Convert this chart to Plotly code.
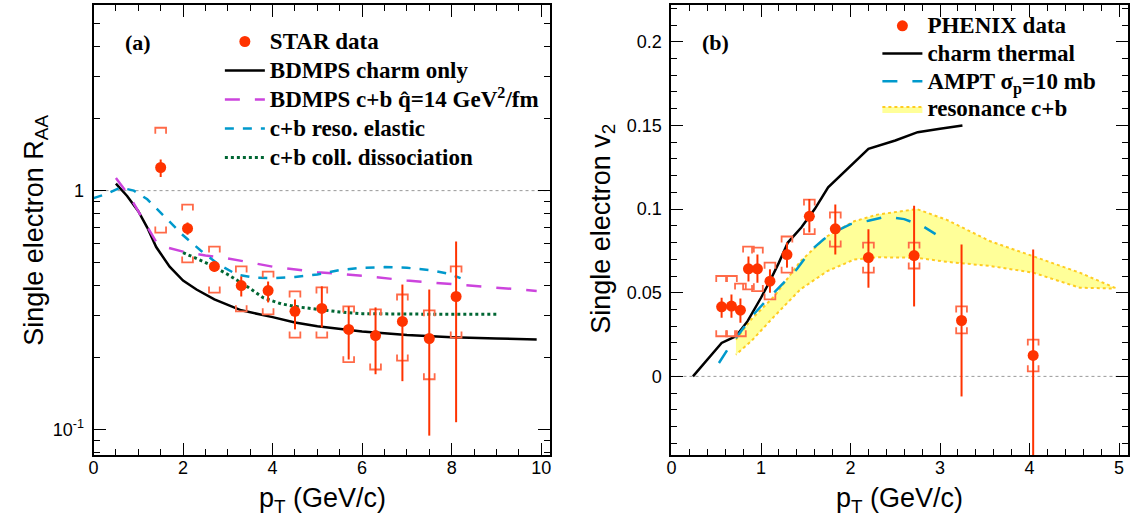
import plotly.graph_objects as go

# ---------------- Panel (a): STAR R_AA ----------------
star_pt = [1.5, 2.1, 2.7, 3.3, 3.9, 4.5, 5.1, 5.7, 6.3, 6.9, 7.5, 8.1]
star_raa = [1.25, 0.694, 0.481, 0.400, 0.381, 0.312, 0.321, 0.262, 0.247, 0.283, 0.240, 0.360]
star_stat_hi = [1.35, 0.735, 0.505, 0.437, 0.416, 0.350, 0.397, 0.327, 0.324, 0.404, 0.385, 0.612]
star_stat_lo = [1.14, 0.654, 0.458, 0.360, 0.340, 0.262, 0.267, 0.196, 0.170, 0.159, 0.094, 0.107]
star_sys_hi = [1.835, 0.874, 0.583, 0.481, 0.458, 0.378, 0.393, 0.327, 0.318, 0.367, 0.315, 0.481]
star_sys_lo = [0.667, 0.500, 0.374, 0.312, 0.303, 0.242, 0.242, 0.191, 0.178, 0.194, 0.162, 0.242]

charm_pt = [0.5, 0.75, 1.0, 1.2, 1.4, 1.7, 2.0, 2.3, 2.7, 3.3, 4.0, 4.5, 5.0, 6.0, 7.0, 8.0, 9.0, 9.9]
charm_raa = [1.07, 0.95, 0.82, 0.70, 0.58, 0.48, 0.42, 0.385, 0.35, 0.315, 0.295, 0.28, 0.27, 0.257, 0.248, 0.243, 0.24, 0.238]

cb_pt = [0.5, 0.8, 1.1, 1.4, 1.6, 2.0, 2.5, 3.0, 3.5, 4.0, 5.0, 6.0, 7.0, 8.0, 9.0, 9.9]
cb_raa = [1.13, 0.95, 0.76, 0.61, 0.58, 0.555, 0.535, 0.52, 0.50, 0.48, 0.455, 0.44, 0.42, 0.405, 0.39, 0.38]

reso_pt = [0.0, 0.3, 0.6, 0.9, 1.2, 1.6, 2.0, 2.4, 2.8, 3.2, 3.6, 4.0, 4.5, 5.0, 5.5, 6.0, 6.5, 7.0, 7.5, 7.9, 8.2]
reso_raa = [0.93, 0.97, 1.03, 1.0, 0.92, 0.77, 0.65, 0.56, 0.49, 0.445, 0.432, 0.43, 0.435, 0.445, 0.465, 0.475, 0.478, 0.475, 0.465, 0.45, 0.43]

coll_pt = [2.0, 2.3, 2.6, 3.0, 3.4, 3.8, 4.2, 4.6, 5.0, 5.5, 6.0, 7.0, 8.0, 9.0]
coll_raa = [0.55, 0.52, 0.49, 0.445, 0.40, 0.355, 0.335, 0.325, 0.318, 0.31, 0.305, 0.303, 0.303, 0.303]

# ---------------- Panel (b): PHENIX v2 ----------------
phx_pt = [0.56, 0.67, 0.77, 0.86, 0.96, 1.1, 1.29, 1.54, 1.83, 2.2, 2.71, 3.24, 4.04]
phx_v2 = [0.0416, 0.042, 0.0396, 0.0643, 0.0643, 0.0569, 0.0728, 0.0957, 0.0882, 0.071, 0.0722, 0.0334, 0.0125]
phx_stat_hi = [0.047, 0.049, 0.0466, 0.0716, 0.0728, 0.064, 0.080, 0.106, 0.1027, 0.088, 0.102, 0.0788, 0.0758]
phx_stat_lo = [0.035, 0.035, 0.032, 0.0567, 0.056, 0.050, 0.065, 0.086, 0.0728, 0.053, 0.0418, -0.012, -0.07]
phx_sys_hi = [0.060, 0.060, 0.0555, 0.0776, 0.077, 0.068, 0.0836, 0.1057, 0.098, 0.080, 0.080, 0.0418, 0.022]
phx_sys_lo = [0.024, 0.024, 0.024, 0.052, 0.051, 0.046, 0.062, 0.085, 0.0776, 0.062, 0.0645, 0.0257, 0.003]

therm_pt = [0.24, 0.4, 0.56, 0.72, 0.85, 1.0, 1.1, 1.2, 1.3, 1.45, 1.6, 1.75, 2.0, 2.2, 2.5, 2.75, 3.0, 3.25]
therm_v2 = [0.0, 0.010, 0.020, 0.024, 0.033, 0.047, 0.057, 0.068, 0.080, 0.089, 0.100, 0.113, 0.126, 0.136, 0.141, 0.146, 0.148, 0.150]

ampt_pt = [0.53, 0.65, 0.75, 0.9, 1.07, 1.25, 1.4, 1.55, 1.7, 1.85, 2.0, 2.2, 2.4, 2.6, 2.8, 2.95]
ampt_v2 = [0.008, 0.018, 0.025, 0.036, 0.046, 0.056, 0.064, 0.075, 0.082, 0.087, 0.091, 0.093, 0.0955, 0.094, 0.090, 0.085]

band_pt = [0.72, 0.89, 1.15, 1.44, 1.74, 2.04, 2.3, 2.74, 3.07, 3.56, 4.04, 4.56, 4.95]
band_hi = [0.022, 0.034, 0.048, 0.0688, 0.0838, 0.0927, 0.0967, 0.100, 0.0937, 0.0808, 0.0718, 0.062, 0.053]
band_lo = [0.013, 0.021, 0.036, 0.052, 0.0629, 0.0698, 0.0712, 0.0709, 0.0685, 0.0660, 0.062, 0.053, 0.0525]

RED = "#ff3300"
BRK = "#ff6a48"
SERIF = "Liberation Serif"
SANS = "Liberation Sans"


def brackets(x, lo, hi, dx, lip, log=False):
    xs, ys = [], []
    for xi, l, h in zip(x, lo, hi):
        ht = h / lip if log else h - lip
        lb = l * lip if log else l + lip
        xs += [xi - dx, xi - dx, xi + dx, xi + dx, None, xi - dx, xi - dx, xi + dx, xi + dx, None]
        ys += [ht, h, h, ht, None, lb, l, l, lb, None]
    return xs, ys


def lg(t):
    return '<span style="font-size:23px"><b>' + t + '</b></span>'


fig = go.Figure()

# ---- panel (a) ----
fig.add_trace(go.Scatter(x=charm_pt, y=charm_raa, mode="lines", name=lg("BDMPS charm only"),
                         line=dict(color="black", width=2.5), xaxis="x", yaxis="y", legend="legend",
                         legendgroup="a2", legendrank=2))
fig.add_trace(go.Scatter(x=cb_pt, y=cb_raa, mode="lines",
                         name=lg("BDMPS c+b q\u0302=14 GeV<sup>2</sup>/fm"),
                         line=dict(color="#cc44dd", width=2.5, dash="longdash"), xaxis="x", yaxis="y",
                         legend="legend", legendgroup="a3", legendrank=3))
fig.add_trace(go.Scatter(x=reso_pt, y=reso_raa, mode="lines", name=lg("c+b reso. elastic"),
                         line=dict(color="#0099cc", width=2.5, dash="dash"), xaxis="x", yaxis="y",
                         legend="legend", legendgroup="a4", legendrank=4))
fig.add_trace(go.Scatter(x=coll_pt, y=coll_raa, mode="lines", name=lg("c+b coll. dissociation"),
                         line=dict(color="#006633", width=3, dash="dot"), xaxis="x", yaxis="y",
                         legend="legend", legendgroup="a5", legendrank=5))
bx, by = brackets(star_pt, star_sys_lo, star_sys_hi, 0.12, 1.06, log=True)
fig.add_trace(go.Scatter(x=bx, y=by, mode="lines", line=dict(color=BRK, width=1.8),
                         showlegend=False, xaxis="x", yaxis="y", hoverinfo="skip"))
fig.add_trace(go.Scatter(x=star_pt, y=star_raa, mode="markers", name=lg("STAR data"),
                         marker=dict(color=RED, size=11),
                         error_y=dict(type="data", symmetric=False,
                                      array=[h - v for h, v in zip(star_stat_hi, star_raa)],
                                      arrayminus=[v - l for v, l in zip(star_raa, star_stat_lo)],
                                      color=RED, thickness=2, width=0),
                         xaxis="x", yaxis="y", legend="legend", legendgroup="a1", legendrank=1))

# ---- panel (b) ----
fig.add_trace(go.Scatter(x=band_pt + band_pt[::-1], y=band_hi + band_lo[::-1], mode="lines",
                         fill="toself", fillcolor="#ffff99", name=lg("resonance c+b"),
                         line=dict(color="#ffcc22", width=2, dash="dot"), xaxis="x2", yaxis="y2",
                         legend="legend2", legendgroup="b4", legendrank=4))
fig.add_trace(go.Scatter(x=therm_pt, y=therm_v2, mode="lines", name=lg("charm thermal"),
                         line=dict(color="black", width=2.5), xaxis="x2", yaxis="y2",
                         legend="legend2", legendgroup="b2", legendrank=2))
fig.add_trace(go.Scatter(x=ampt_pt, y=ampt_v2, mode="lines", name=lg("AMPT σ<sub>p</sub>=10 mb"),
                         line=dict(color="#0099cc", width=2.5, dash="longdash"), xaxis="x2", yaxis="y2",
                         legend="legend2", legendgroup="b3", legendrank=3))
bx2, by2 = brackets(phx_pt, phx_sys_lo, phx_sys_hi, 0.06, 0.0036)
fig.add_trace(go.Scatter(x=bx2, y=by2, mode="lines", line=dict(color=BRK, width=1.8),
                         showlegend=False, xaxis="x2", yaxis="y2", hoverinfo="skip"))
fig.add_trace(go.Scatter(x=phx_pt, y=phx_v2, mode="markers", name=lg("PHENIX data"),
                         marker=dict(color=RED, size=11),
                         error_y=dict(type="data", symmetric=False,
                                      array=[h - v for h, v in zip(phx_stat_hi, phx_v2)],
                                      arrayminus=[v - l for v, l in zip(phx_v2, phx_stat_lo)],
                                      color=RED, thickness=2, width=0),
                         xaxis="x2", yaxis="y2", legend="legend2", legendgroup="b1", legendrank=1))

W, H = 1142, 526
common = dict(showline=True, linecolor="black", linewidth=2, mirror="ticks", ticks="inside",
              ticklen=12, tickwidth=1, tickcolor="black", showgrid=False, zeroline=False,
              tickfont=dict(family=SANS, size=18, color="black"))

fig.update_layout(
    width=W, height=H, margin=dict(l=0, r=0, t=0, b=0),
    paper_bgcolor="white", plot_bgcolor="white",
    xaxis=dict(domain=[89 / W, 548 / W], range=[0, 10.2], tick0=0, dtick=2, anchor="y",
               ticklabelstandoff=-5,
               minor=dict(dtick=0.5, ticks="inside", ticklen=6, tickcolor="black", showgrid=False),
               **common),
    yaxis=dict(domain=[1 - 455 / H, 1 - 5 / H], type="log", range=[-1.108, 0.778], anchor="x",
               tickvals=[0.1, 1], ticktext=["10<sup>-1</sup>", "1"], ticklabelstandoff=4,
               minor=dict(tickvals=[0.08, 0.09, 0.2, 0.3, 0.4, 0.5, 0.6, 0.7, 0.8, 0.9, 2, 3, 4, 5, 6],
                          ticks="inside", ticklen=6, tickcolor="black", showgrid=False),
               **common),
    xaxis2=dict(domain=[670 / W, 1129 / W], range=[0, 5.1], tick0=0, dtick=1, anchor="y2",
                ticklabelstandoff=-5,
                minor=dict(dtick=0.2, ticks="inside", ticklen=6, tickcolor="black", showgrid=False),
                **common),
    yaxis2=dict(domain=[1 - 455 / H, 1 - 5 / H], range=[-0.047, 0.222], anchor="x2",
                tickvals=[0, 0.05, 0.1, 0.15, 0.2], ticktext=["0", "0.05", "0.1", "0.15", "0.2"],
                ticklabelstandoff=4,
                minor=dict(dtick=0.01, ticks="inside", ticklen=6, tickcolor="black", showgrid=False),
                **common),
    legend=dict(x=216 / W, y=1 - 22 / H, xanchor="left", yanchor="top", bgcolor="rgba(0,0,0,0)",
                font=dict(family=SERIF, size=20, color="black"), traceorder="grouped",
                tracegroupgap=0, itemwidth=40),
    legend2=dict(x=877 / W, y=1 - 7 / H, xanchor="left", yanchor="top", bgcolor="rgba(0,0,0,0)",
                 font=dict(family=SERIF, size=19, color="black"), traceorder="grouped",
                 tracegroupgap=0, itemwidth=40),
    shapes=[
        dict(type="line", xref="x domain", yref="y", x0=0, x1=1, y0=1, y1=1,
             line=dict(color="#999999", width=1, dash="dot"), layer="below"),
        dict(type="line", xref="x2 domain", yref="y2", x0=0, x1=1, y0=0, y1=0,
             line=dict(color="#999999", width=1, dash="dot"), layer="below"),
    ],
    annotations=[
        dict(text="<b>(a)</b>", x=119 / W, y=1 - 42 / H, xref="paper", yref="paper",
             xanchor="left", yanchor="middle", showarrow=False,
             font=dict(family=SERIF, size=22, color="black")),
        dict(text="<b>(b)</b>", x=699 / W, y=1 - 42 / H, xref="paper", yref="paper",
             xanchor="left", yanchor="middle", showarrow=False,
             font=dict(family=SERIF, size=22, color="black")),
        dict(text="p<sub>T</sub> (GeV/c)", x=319 / W, y=1 - 500 / H, xref="paper", yref="paper",
             xanchor="center", yanchor="middle", showarrow=False,
             font=dict(family=SANS, size=27, color="black")),
        dict(text="p<sub>T</sub> (GeV/c)", x=899 / W, y=1 - 500 / H, xref="paper", yref="paper",
             xanchor="center", yanchor="middle", showarrow=False,
             font=dict(family=SANS, size=27, color="black")),
        dict(text="Single electron R<sub>AA</sub>", x=31 / W, y=1 - 230 / H, xref="paper", yref="paper",
             xanchor="center", yanchor="middle", showarrow=False, textangle=-90,
             font=dict(family=SANS, size=27, color="black")),
        dict(text="Single electron v<sub>2</sub>", x=601 / W, y=1 - 229 / H, xref="paper", yref="paper",
             xanchor="center", yanchor="middle", showarrow=False, textangle=-90,
             font=dict(family=SANS, size=27, color="black")),
    ],
)

fig.write_html("out.html", post_script="document.body.style.margin='0';",
               config={"displayModeBar": False})
